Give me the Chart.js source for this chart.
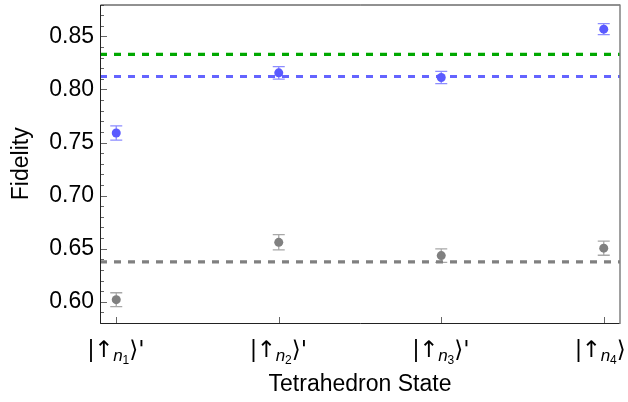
<!DOCTYPE html>
<html>
<head>
<meta charset="utf-8">
<script src="https://cdn.jsdelivr.net/npm/chart.js@4"></script>
<style>
  html, body { margin: 0; padding: 0; background: #fff; }
</style>
</head>
<body>
<canvas id="graficoFidelidade" width="628" height="402"></canvas>
<script>
// indices dos estados (subscrito de n) e posicao de cada um no eixo x
const estados = ["1", "2", "3", "4"];
const posicoes = [1, 2, 3, 4];

// fidelidades medidas (azul e cinza) e as barras de erro
const fidelidadeAzul = [0.759, 0.8156, 0.8112, 0.8568];
const erroAzul = [0.0067, 0.0059, 0.0058, 0.0052];
const fidelidadeCinza = [0.602, 0.656, 0.6435, 0.6505];
const erroCinza = [0.0065, 0.0072, 0.0064, 0.0067];

// linhas tracejadas de referencia
const linhaVerde = 0.833;
const linhaAzul = 0.8122;
const linhaCinza = 0.6375;

// marcas do eixo y
const ticksY = [0.60, 0.65, 0.70, 0.75, 0.80, 0.85];
const ticksYMenores = [0.58, 0.59, 0.61, 0.62, 0.63, 0.64, 0.66, 0.67, 0.68, 0.69,
    0.71, 0.72, 0.73, 0.74, 0.76, 0.77, 0.78, 0.79, 0.81, 0.82, 0.83, 0.84,
    0.86, 0.87, 0.88];

const xMin = 0.9, xMax = 4.1;
const yMin = 0.58, yMax = 0.88;
const fonte = "'Liberation Sans', Arial, sans-serif";

function pontos(valores) {
    return posicoes.map((x, i) => ({ x: x, y: valores[i] }));
}

function linhaHorizontal(valor) {
    return [{ x: xMin, y: valor }, { x: xMax, y: valor }];
}

// barras de erro desenhadas por baixo dos pontos
const barrasErro = {
    id: "barrasErro",
    beforeDatasetsDraw(chart) {
        const ctx = chart.ctx;
        const sx = chart.scales.x, sy = chart.scales.y;
        const grupos = [
            { v: fidelidadeAzul, e: erroAzul, cor: "#8c8cff" },
            { v: fidelidadeCinza, e: erroCinza, cor: "#a8a8a8" }
        ];
        ctx.save();
        ctx.lineWidth = 1.3;
        grupos.forEach(g => {
            ctx.strokeStyle = g.cor;
            posicoes.forEach((p, i) => {
                const x = sx.getPixelForValue(p);
                const y1 = sy.getPixelForValue(g.v[i] + g.e[i]);
                const y2 = sy.getPixelForValue(g.v[i] - g.e[i]);
                ctx.beginPath();
                ctx.moveTo(x, y1); ctx.lineTo(x, y2);
                ctx.moveTo(x - 6, y1); ctx.lineTo(x + 6, y1);
                ctx.moveTo(x - 6, y2); ctx.lineTo(x + 6, y2);
                ctx.stroke();
            });
        });
        ctx.restore();
    }
};

// moldura, marcas internas e rotulos dos kets
const moldura = {
    id: "moldura",
    afterDraw(chart) {
        const ctx = chart.ctx;
        const a = chart.chartArea;
        const sx = chart.scales.x, sy = chart.scales.y;
        ctx.save();

        ctx.strokeStyle = "#666";
        ctx.lineWidth = 1;
        ticksY.forEach(v => {
            const y = Math.round(sy.getPixelForValue(v)) + 0.5;
            ctx.beginPath(); ctx.moveTo(a.left, y); ctx.lineTo(a.left + 7, y); ctx.stroke();
        });
        ticksYMenores.forEach(v => {
            const y = Math.round(sy.getPixelForValue(v)) + 0.5;
            ctx.beginPath(); ctx.moveTo(a.left, y); ctx.lineTo(a.left + 4, y); ctx.stroke();
        });
        posicoes.forEach(p => {
            const x = Math.round(sx.getPixelForValue(p)) + 0.5;
            ctx.beginPath(); ctx.moveTo(x, a.bottom); ctx.lineTo(x, a.bottom - 6); ctx.stroke();
        });

        ctx.strokeStyle = "#222";
        ctx.beginPath();
        ctx.moveTo(a.right, a.top + 0.5); ctx.lineTo(a.left + 0.5, a.top + 0.5);
        ctx.lineTo(a.left + 0.5, a.bottom + 0.5); ctx.lineTo(a.right, a.bottom + 0.5);
        ctx.stroke();
        ctx.strokeStyle = "#808080";
        ctx.lineWidth = 1.5;
        ctx.beginPath(); ctx.moveTo(a.right, a.top); ctx.lineTo(a.right, a.bottom + 1); ctx.stroke();

        // rotulos |↑n_k⟩'
        ctx.fillStyle = "#000";
        ctx.textBaseline = "alphabetic";
        ctx.textAlign = "left";
        const base = a.bottom + 34;
        posicoes.forEach((p, i) => {
            const partes = [
                { t: "|", f: "23px " + fonte, dy: 0 },
                { t: "\u2191", f: "23px 'DejaVu Sans', sans-serif", dy: 0 },
                { t: "n", f: "italic 17px " + fonte, dy: 4 },
                { t: estados[i], f: "12px " + fonte, dy: 7 },
                { t: "\u27E9'", f: "23px 'DejaVu Sans', sans-serif", dy: 0 }
            ];
            let total = 0;
            partes.forEach(q => { ctx.font = q.f; q.w = ctx.measureText(q.t).width; total += q.w; });
            let x = sx.getPixelForValue(p) - total / 2;
            partes.forEach(q => {
                ctx.font = q.f;
                ctx.fillText(q.t, x, base + q.dy);
                x += q.w;
            });
        });
        ctx.restore();
    }
};

const ctx = document.getElementById("graficoFidelidade").getContext("2d");

window.grafico = new Chart(ctx, {
    type: "scatter",
    data: {
        datasets: [
            {
                label: "azul",
                data: pontos(fidelidadeAzul),
                backgroundColor: "#5a5aff",
                borderWidth: 0,
                pointRadius: 4.5,
                order: 0
            },
            {
                label: "cinza",
                data: pontos(fidelidadeCinza),
                backgroundColor: "#808080",
                borderWidth: 0,
                pointRadius: 4.5,
                order: 1
            },
            {
                type: "line",
                label: "verde ref",
                data: linhaHorizontal(linhaVerde),
                borderColor: "#00a800",
                borderWidth: 3.2,
                borderDash: [7, 7],
                pointRadius: 0,
                order: 2
            },
            {
                type: "line",
                label: "azul ref",
                data: linhaHorizontal(linhaAzul),
                borderColor: "#6464ff",
                borderWidth: 3.2,
                borderDash: [7, 7],
                pointRadius: 0,
                order: 3
            },
            {
                type: "line",
                label: "cinza ref",
                data: linhaHorizontal(linhaCinza),
                borderColor: "#808080",
                borderWidth: 3.2,
                borderDash: [7, 7],
                pointRadius: 0,
                order: 4
            }
        ]
    },
    options: {
        responsive: false,
        animation: false,
        layout: { padding: { top: 3, right: 8, left: 0, bottom: 0 } },
        plugins: {
            legend: { display: false },
            tooltip: { enabled: false }
        },
        scales: {
            x: {
                type: "linear",
                min: xMin,
                max: xMax,
                grid: { display: false, drawTicks: false },
                border: { display: false },
                ticks: { display: false },
                afterFit: s => { s.height = 79; s.paddingLeft = 0; s.paddingRight = 0; },
                title: {
                    display: true,
                    text: "Tetrahedron State",
                    color: "#000",
                    font: { family: fonte, size: 23 },
                    padding: { top: 0, bottom: 4 }
                }
            },
            y: {
                min: yMin,
                max: yMax,
                grid: { display: false, drawTicks: false },
                border: { display: false },
                afterBuildTicks: s => { s.ticks = ticksY.map(v => ({ value: v })); },
                ticks: {
                    callback: v => v.toFixed(2),
                    color: "#000",
                    font: { family: fonte, size: 23 },
                    padding: 6
                },
                afterFit: s => { s.width = 100; s.paddingTop = 0; s.paddingBottom = 0; },
                title: {
                    display: true,
                    text: "Fidelity",
                    color: "#000",
                    font: { family: fonte, size: 23 },
                    padding: { top: 8, bottom: 0 }
                }
            }
        }
    },
    plugins: [barrasErro, moldura]
});
</script>
</body>
</html>
